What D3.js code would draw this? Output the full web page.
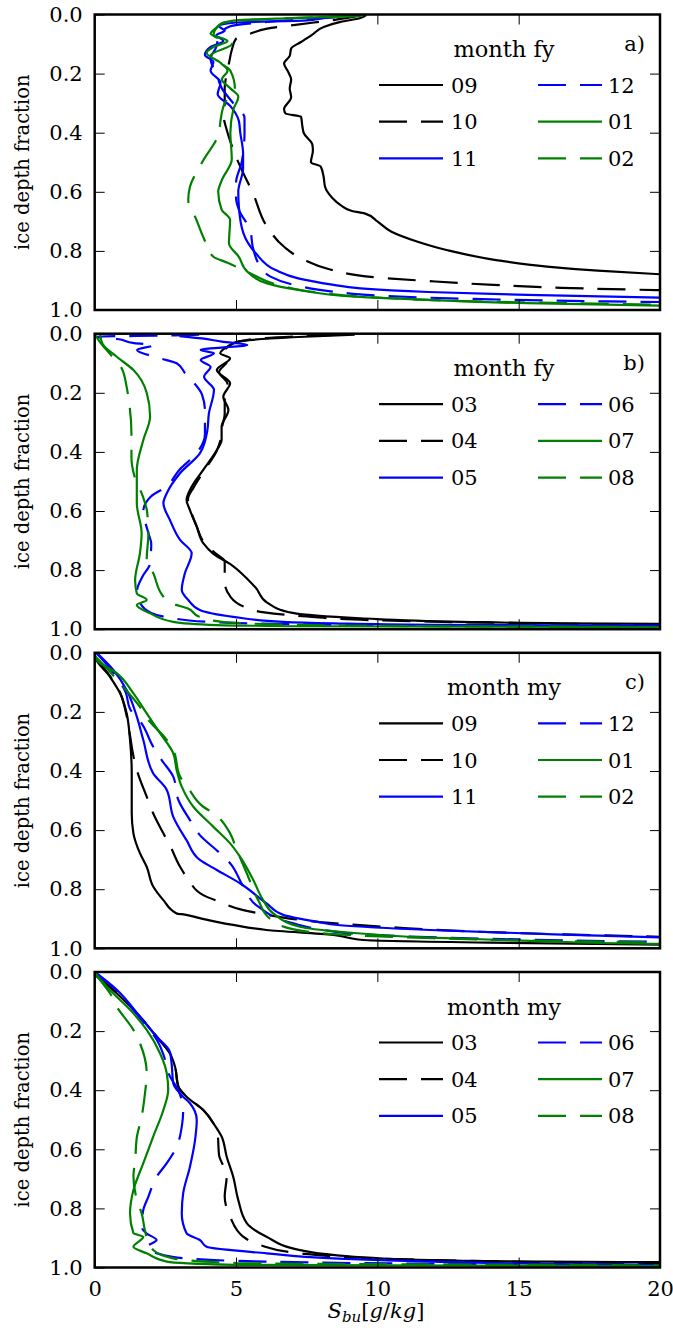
<!DOCTYPE html>
<html>
<head>
<meta charset="utf-8">
<script src="https://cdn.jsdelivr.net/npm/d3@7"></script>
<style>
  body { margin: 0; background: #fff; }
  svg { display: block; }
  text { font-family: "DejaVu Serif", serif; fill: #000; }
</style>
</head>
<body>
<svg id="chart" width="673" height="1337"></svg>
<script>
// Bulk salinity profiles: each series is a list of [S_bu (g/kg), ice depth fraction]

// ---- panel a: first-year ice, Sep–Feb ----
const monthsA = ["09", "10", "11", "12", "01", "02"];
const a09 = [[9.6,0.002],[9.4,0.012],[8.7,0.025],[8.1,0.042],[7.7,0.068],[7.3,0.093],[6.95,0.115],[6.9,0.14],[6.7,0.166],[6.85,0.195],[6.95,0.22],[6.9,0.25],[6.95,0.28],[6.7,0.32],[6.75,0.335],[7.3,0.346],[7.35,0.38],[7.4,0.402],[7.7,0.44],[7.72,0.46],[7.65,0.5],[8.0,0.515],[8.1,0.55],[8.15,0.583],[8.4,0.62],[8.7,0.645],[9.1,0.665],[9.55,0.673],[10.0,0.7],[10.5,0.735],[11.4,0.768],[12.45,0.797],[14.2,0.831],[16.0,0.853],[17.8,0.867],[20.0,0.879],[22,0.888]];
const a10 = [[9.4,0.004],[8.5,0.018],[7.1,0.035],[6.1,0.048],[5.5,0.065],[5.0,0.082],[4.85,0.12],[4.75,0.165],[4.65,0.21],[4.6,0.25],[4.6,0.3],[4.55,0.334],[4.7,0.4],[4.8,0.43],[4.95,0.47],[5.15,0.515],[5.6,0.605],[6.1,0.718],[6.7,0.786],[7.4,0.83],[8.3,0.862],[10.0,0.89],[11.8,0.902],[14.1,0.915],[16.5,0.925],[20,0.933],[22,0.937]];
const a11 = [[8.2,0.008],[7.5,0.02],[5.0,0.027],[4.4,0.04],[4.6,0.055],[4.3,0.07],[4.55,0.09],[4.1,0.11],[3.9,0.137],[4.2,0.16],[4.1,0.19],[4.45,0.23],[4.35,0.27],[4.8,0.31],[5.1,0.36],[5.15,0.4],[5.25,0.47],[5.25,0.52],[5.08,0.6],[5.1,0.65],[5.26,0.74],[5.7,0.808],[6.4,0.865],[7.2,0.893],[8.4,0.914],[9.4,0.927],[11.8,0.939],[15.3,0.949],[20,0.958],[22,0.961]];
const a12 = [[8.5,0.01],[6.5,0.022],[4.8,0.04],[4.4,0.07],[4.3,0.11],[4.1,0.15],[4.3,0.2],[4.5,0.25],[4.9,0.3],[5.3,0.35],[5.3,0.4],[5.2,0.5],[5.0,0.57],[5.0,0.62],[5.1,0.66],[5.5,0.73],[5.6,0.79],[5.85,0.85],[6.22,0.887],[7.05,0.915],[8.46,0.938],[10.2,0.952],[14,0.964],[18.2,0.971],[20,0.973],[22,0.975]];
const a01 = [[9.5,0.004],[7.0,0.012],[5.0,0.02],[4.5,0.03],[4.3,0.045],[4.1,0.065],[4.7,0.09],[4.2,0.11],[3.96,0.13],[4.4,0.16],[4.7,0.19],[4.5,0.22],[4.8,0.25],[5.08,0.278],[4.9,0.323],[4.8,0.4],[4.85,0.49],[4.5,0.56],[4.37,0.6],[4.49,0.66],[4.79,0.695],[4.75,0.774],[5.1,0.82],[5.4,0.87],[6.1,0.91],[7.2,0.932],[9.2,0.955],[11.8,0.966],[15.3,0.977],[20,0.985],[22,0.988]];
const a02 = [[9.2,0.006],[6.5,0.014],[4.5,0.03],[4.2,0.07],[4.85,0.1],[4.1,0.138],[4.8,0.19],[4.96,0.25],[4.6,0.3],[4.45,0.36],[4.4,0.4],[3.8,0.5],[3.37,0.583],[3.31,0.628],[3.6,0.695],[3.87,0.76],[4.2,0.82],[4.7,0.84],[5.5,0.876],[6.5,0.915],[8.0,0.942],[10,0.958],[14,0.972],[20,0.982],[22,0.985]];

// ---- panel b: first-year ice, Mar–Aug ----
const monthsB = ["03", "04", "05", "06", "07", "08"];
const b03 = [[9.2,0.003],[7.0,0.012],[5.0,0.028],[4.79,0.038],[4.44,0.066],[4.79,0.083],[4.32,0.123],[4.79,0.168],[4.55,0.213],[4.73,0.258],[4.49,0.315],[4.49,0.36],[4.32,0.394],[3.84,0.461],[3.43,0.518],[3.25,0.563],[3.37,0.597],[3.61,0.653],[3.84,0.709],[4.2,0.745],[4.8,0.78],[5.4,0.83],[5.7,0.86],[6.1,0.91],[7.0,0.945],[9.4,0.963],[13,0.975],[16.5,0.98],[20,0.982],[22,0.984]];
const b04 = [[8.5,0.004],[6.0,0.015],[5.0,0.03],[4.6,0.06],[4.7,0.09],[4.4,0.13],[4.7,0.17],[4.6,0.22],[4.6,0.27],[4.5,0.32],[4.45,0.36],[4.3,0.4],[3.9,0.46],[3.5,0.52],[3.3,0.56],[3.4,0.6],[3.6,0.65],[3.9,0.71],[4.3,0.745],[4.6,0.77],[4.6,0.84],[4.8,0.89],[5.3,0.924],[6.0,0.943],[7.5,0.957],[10,0.97],[14,0.978],[20,0.985],[22,0.987]];
const b05 = [[3.0,0.008],[3.8,0.016],[4.5,0.027],[5.4,0.038],[3.75,0.055],[4.22,0.066],[3.75,0.089],[4.1,0.112],[3.87,0.146],[4.22,0.19],[4.04,0.27],[3.98,0.33],[3.72,0.405],[3.02,0.472],[2.55,0.54],[2.43,0.574],[2.66,0.63],[3.02,0.698],[3.43,0.743],[3.19,0.811],[3.08,0.867],[3.31,0.901],[3.72,0.935],[4.9,0.958],[6.67,0.975],[8.44,0.98],[12,0.985],[20,0.988],[22,0.989]];
const b06 = [[3.7,0.003],[2.8,0.006],[0.0,0.01],[0.8,0.018],[1.4,0.032],[2.1,0.038],[1.5,0.055],[2.3,0.083],[2.9,0.1],[3.2,0.134],[3.8,0.207],[3.9,0.26],[3.9,0.34],[3.6,0.405],[3.0,0.46],[2.5,0.52],[2.0,0.55],[1.72,0.6],[1.9,0.675],[2.0,0.71],[1.95,0.78],[1.7,0.82],[1.5,0.87],[1.6,0.91],[2.0,0.945],[2.6,0.96],[4.0,0.975],[7.0,0.983],[12,0.988],[20,0.99],[22,0.991]];
const b07 = [[0.19,0.004],[0.3,0.038],[0.78,0.078],[1.37,0.123],[1.84,0.2],[1.96,0.28],[1.72,0.36],[1.49,0.461],[1.49,0.574],[1.66,0.675],[1.6,0.743],[1.43,0.834],[1.49,0.879],[1.84,0.901],[1.49,0.918],[1.96,0.946],[2.78,0.975],[4.32,0.986],[8.0,0.99],[20,0.993],[22,0.994]];
const b08 = [[0.0,0.002],[0.2,0.03],[0.6,0.075],[0.95,0.116],[1.13,0.18],[1.2,0.22],[1.3,0.34],[1.3,0.42],[1.4,0.48],[1.7,0.55],[1.85,0.6],[1.9,0.675],[1.84,0.765],[2.07,0.81],[2.43,0.89],[2.7,0.912],[3.3,0.93],[3.7,0.958],[4.5,0.975],[7.0,0.985],[12,0.99],[20,0.993],[22,0.994]];

// ---- panel c: multi-year ice, Sep–Feb ----
const monthsC = ["09", "10", "11", "12", "01", "02"];
const c09 = [[0.0,0.0],[0.01,0.013],[0.54,0.081],[0.9,0.137],[1.13,0.205],[1.25,0.295],[1.31,0.408],[1.31,0.543],[1.37,0.611],[1.6,0.678],[1.84,0.724],[2.07,0.791],[2.43,0.837],[2.9,0.882],[3.19,0.886],[3.72,0.898],[4.9,0.921],[6.08,0.938],[8.44,0.955],[9.5,0.972],[14,0.981],[20,0.988],[22,0.99]];
const c10 = [[0.0,0.013],[0.55,0.08],[0.9,0.135],[1.1,0.2],[1.25,0.28],[1.35,0.34],[1.5,0.4],[1.84,0.487],[2.1,0.55],[2.43,0.611],[2.7,0.66],[3.02,0.724],[3.3,0.765],[3.84,0.82],[4.4,0.842],[5.26,0.871],[6.0,0.885],[8.3,0.914],[10.7,0.93],[13.6,0.944],[16.6,0.953],[20,0.961],[22,0.965]];
const c11 = [[0.07,0.0],[0.66,0.058],[1.13,0.126],[1.49,0.216],[1.72,0.295],[2.07,0.408],[2.55,0.464],[2.78,0.555],[3.25,0.634],[3.72,0.701],[4.32,0.735],[5.14,0.78],[6.08,0.848],[6.67,0.887],[7.85,0.91],[8.68,0.922],[11.86,0.938],[15.4,0.95],[20,0.963],[22,0.967]];
const c12 = [[0.05,0.0],[0.6,0.06],[1.1,0.135],[1.25,0.19],[1.66,0.239],[2.07,0.318],[2.37,0.363],[2.78,0.419],[2.96,0.498],[3.37,0.566],[3.72,0.617],[4.37,0.673],[4.79,0.712],[5.26,0.791],[5.8,0.86],[7.0,0.915],[8.32,0.941],[9.5,0.953],[11.15,0.96],[15,0.97],[20,0.978],[22,0.98]];
const c01 = [[0.0,0.0],[0.07,0.024],[0.78,0.069],[1.37,0.137],[1.84,0.205],[2.31,0.272],[2.78,0.34],[2.9,0.397],[3.08,0.453],[3.49,0.521],[4.2,0.589],[4.79,0.645],[5.14,0.69],[5.61,0.769],[5.96,0.837],[6.32,0.882],[7.26,0.927],[8.68,0.944],[11.86,0.964],[15.4,0.975],[20,0.985],[22,0.987]];
const c02 = [[0.0,0.01],[0.5,0.06],[0.9,0.103],[1.6,0.183],[1.9,0.227],[2.55,0.295],[2.78,0.33],[3.02,0.419],[3.31,0.458],[3.84,0.521],[4.2,0.543],[4.79,0.611],[5.0,0.66],[5.38,0.746],[5.8,0.84],[6.2,0.9],[7.0,0.935],[9.0,0.955],[12,0.966],[16,0.975],[20,0.98],[22,0.982]];

// ---- panel d: multi-year ice, Mar–Aug ----
const monthsD = ["03", "04", "05", "06", "07", "08"];
const d03 = [[0.0,0.0],[0.07,0.01],[0.78,0.072],[1.6,0.151],[2.19,0.219],[2.66,0.275],[2.84,0.32],[2.96,0.388],[3.25,0.422],[3.84,0.467],[4.2,0.512],[4.49,0.557],[4.67,0.625],[4.9,0.693],[5.08,0.772],[5.38,0.85],[6.08,0.896],[7.26,0.941],[8.5,0.958],[11.86,0.975],[16,0.98],[20,0.982],[22,0.983]];
const d04 = [[0.0,0.01],[0.8,0.072],[1.6,0.151],[2.2,0.219],[2.66,0.275],[2.84,0.32],[2.96,0.388],[3.25,0.422],[3.84,0.467],[4.2,0.512],[4.35,0.55],[4.4,0.62],[4.67,0.69],[4.6,0.76],[4.8,0.83],[5.26,0.896],[5.85,0.924],[7.26,0.952],[9.0,0.965],[12,0.975],[20,0.985],[22,0.986]];
const d05 = [[0.0,0.0],[0.07,0.005],[0.78,0.06],[1.6,0.151],[2.19,0.219],[2.66,0.27],[2.72,0.309],[2.78,0.377],[3.13,0.422],[3.37,0.444],[3.61,0.501],[3.55,0.569],[3.37,0.659],[3.13,0.749],[3.08,0.817],[3.25,0.884],[3.72,0.907],[3.96,0.93],[6.08,0.952],[8.44,0.969],[12,0.98],[20,0.992],[22,0.993]];
const d06 = [[0.05,0.005],[0.75,0.06],[1.55,0.15],[2.2,0.23],[2.5,0.3],[2.6,0.34],[3.0,0.41],[3.13,0.467],[3.08,0.524],[2.9,0.591],[2.55,0.647],[2.19,0.693],[1.9,0.76],[1.72,0.805],[1.66,0.862],[1.84,0.885],[2.19,0.907],[1.84,0.93],[2.43,0.958],[3.25,0.969],[6.0,0.98],[12,0.987],[20,0.99],[22,0.991]];
const d07 = [[0.0,0.0],[0.07,0.01],[0.54,0.061],[1.37,0.14],[1.84,0.196],[2.31,0.275],[2.55,0.343],[2.6,0.399],[2.43,0.467],[2.07,0.557],[1.72,0.647],[1.37,0.738],[1.25,0.817],[1.37,0.884],[1.72,0.896],[1.37,0.93],[1.84,0.952],[2.55,0.98],[4.9,0.991],[20,0.995],[22,0.996]];
const d08 = [[0.0,0.005],[0.19,0.027],[0.54,0.072],[0.78,0.117],[1.37,0.196],[1.6,0.241],[1.84,0.343],[1.78,0.41],[1.66,0.49],[1.49,0.56],[1.43,0.64],[1.37,0.69],[1.49,0.77],[1.66,0.817],[1.84,0.896],[2.07,0.941],[2.78,0.969],[5.0,0.985],[20,0.993],[22,0.994]];

const legendTitles = ["month fy", "month fy", "month my", "month my"];
const panelLetters = ["a)", "b)", "c)", ""];
const xTicks = [0, 5, 10, 15, 20];
const yTicks = [0, 0.2, 0.4, 0.6, 0.8, 1.0];

// line style per position in a panel: black, black--, blue, blue--, green, green--
const lineColors = ["#000000", "#000000", "#0000ff", "#0000ff", "#008000", "#008000"];
const lineDashed = [false, true, false, true, false, true];

const panels = [
  { months: monthsA, series: [a09, a10, a11, a12, a01, a02] },
  { months: monthsB, series: [b03, b04, b05, b06, b07, b08] },
  { months: monthsC, series: [c09, c10, c11, c12, c01, c02] },
  { months: monthsD, series: [d03, d04, d05, d06, d07, d08] }
];

const svg = d3.select("#chart");
const plotLeft = 94.7, plotRight = 660;
const panelTops = [14.5, 333.7, 652.8, 972.0];
const panelH = 295.5;
const FONT = 21;
const DASH = "28,14";
const LW = 2.2;

const x = d3.scaleLinear().domain([0, 20]).range([plotLeft, plotRight]);

function styleAxis(g) {
  g.attr("font-family", null).attr("font-size", null);
  g.select(".domain").remove();
  g.selectAll(".tick line").attr("stroke", "#000").attr("stroke-width", 1);
  g.selectAll(".tick text").style("font-size", FONT + "px");
}

panels.forEach((p, i) => {
  const top = panelTops[i];
  const y = d3.scaleLinear().domain([0, 1]).range([top, top + panelH]);
  const g = svg.append("g");

  const clipId = "clip" + i;
  svg.append("clipPath").attr("id", clipId)
    .append("rect")
    .attr("x", plotLeft).attr("y", top)
    .attr("width", plotRight - plotLeft).attr("height", panelH);

  const line = d3.line()
    .x(d => x(d[0]))
    .y(d => y(d[1]))
    .curve(d3.curveMonotoneY);

  const lines = g.append("g").attr("clip-path", `url(#${clipId})`);
  p.series.forEach((s, k) => {
    lines.append("path")
      .datum(s)
      .attr("d", line)
      .attr("fill", "none")
      .attr("stroke", lineColors[k])
      .attr("stroke-width", LW)
      .attr("stroke-linejoin", "round")
      .attr("stroke-dasharray", lineDashed[k] ? DASH : null);
  });

  // axes with inward ticks on all four sides
  g.append("g").attr("transform", `translate(${plotLeft},0)`)
    .call(d3.axisLeft(y).tickValues(yTicks).tickSize(-10).tickSizeOuter(0)
      .tickPadding(12).tickFormat(d3.format(".1f")))
    .call(styleAxis);
  g.append("g").attr("transform", `translate(${plotRight},0)`)
    .call(d3.axisRight(y).tickValues(yTicks.slice(1, -1)).tickSize(-10).tickSizeOuter(0).tickFormat(""))
    .call(styleAxis);
  g.append("g").attr("transform", `translate(0,${top})`)
    .call(d3.axisTop(x).tickValues(xTicks.slice(1, -1)).tickSize(-10).tickSizeOuter(0).tickFormat(""))
    .call(styleAxis);
  const isLast = i === panels.length - 1;
  g.append("g").attr("transform", `translate(0,${top + panelH})`)
    .call(d3.axisBottom(x).tickValues(isLast ? xTicks : xTicks.slice(1, -1)).tickSize(-10).tickSizeOuter(0)
      .tickPadding(14).tickFormat(isLast ? d3.format("d") : ""))
    .call(styleAxis);

  // frame
  g.append("rect")
    .attr("x", plotLeft).attr("y", top)
    .attr("width", plotRight - plotLeft).attr("height", panelH)
    .attr("fill", "none").attr("stroke", "#000").attr("stroke-width", 2.5);

  // y label
  g.append("text")
    .attr("transform", `translate(29,${top + panelH / 2}) rotate(-90)`)
    .attr("text-anchor", "middle")
    .style("font-size", "19.5px")
    .text("ice depth fraction");

  // panel letter
  if (panelLetters[i]) {
    g.append("text")
      .attr("x", 645).attr("y", top + 36)
      .attr("text-anchor", "end")
      .style("font-size", FONT + "px")
      .text(panelLetters[i]);
  }

  // legend
  const lg = g.append("g");
  lg.append("text")
    .attr("x", 504).attr("y", top + 42.5)
    .attr("text-anchor", "middle")
    .style("font-size", "22.5px")
    .text(legendTitles[i]);
  p.months.forEach((m, k) => {
    const col = k < 3 ? 0 : 1;
    const row = k % 3;
    const ly = top + 70.5 + row * 36.7;
    const x1 = col ? 538 : 379;
    lg.append("line")
      .attr("x1", x1).attr("x2", x1 + 64)
      .attr("y1", ly).attr("y2", ly)
      .attr("stroke", lineColors[k]).attr("stroke-width", LW)
      .attr("stroke-dasharray", lineDashed[k] ? DASH : null);
    lg.append("text")
      .attr("x", col ? 608 : 451).attr("y", ly)
      .attr("dy", "0.36em")
      .style("font-size", FONT + "px")
      .text(m);
  });
});

// x axis title: S_bu [g/kg]
const xt = svg.append("text")
  .attr("x", 376).attr("y", 1318)
  .attr("text-anchor", "middle")
  .style("font-size", FONT + "px");
xt.append("tspan").style("font-style", "italic").text("S");
xt.append("tspan").style("font-style", "italic").style("font-size", "15px").attr("dy", 4).text("bu");
xt.append("tspan").attr("dy", -4).text("[");
xt.append("tspan").style("font-style", "italic").text("g");
xt.append("tspan").text("/");
xt.append("tspan").style("font-style", "italic").text("kg");
xt.append("tspan").text("]");
</script>
</body>
</html>
